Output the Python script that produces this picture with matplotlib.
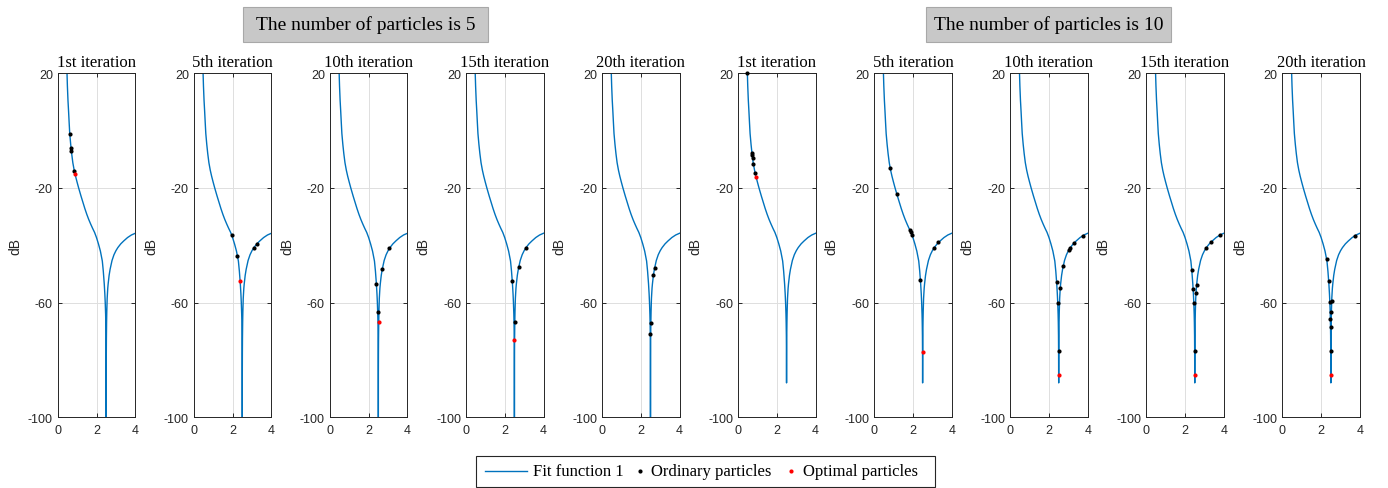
import matplotlib
matplotlib.use("Agg")
import matplotlib.pyplot as plt
from matplotlib.lines import Line2D
from matplotlib.patches import Rectangle

plt.rcParams['axes.unicode_minus'] = False
plt.rcParams['font.family'] = ['Liberation Sans', 'DejaVu Sans']

# ---------------- data ----------------
group_labels = ['The number of particles is 5', 'The number of particles is 10']
iteration_labels = ['1st iteration', '5th iteration', '10th iteration', '15th iteration', '20th iteration']

# Fit function 1 (dB)
curve_left_x = [0.47, 0.48, 0.50, 0.53, 0.56, 0.59, 0.62, 0.67, 0.72, 0.78, 0.85, 0.92, 1.00, 1.08,
                1.20, 1.30, 1.40, 1.50, 1.60, 1.70, 1.80, 1.90, 2.00, 2.10, 2.20, 2.30, 2.35, 2.40,
                2.43, 2.45, 2.47, 2.48, 2.49, 2.495, 2.498]
curve_left_db = [24.0, 20.0, 15.5, 10.5, 6.8, 2.8, -1.0, -4.8, -8.0, -11.2, -13.8, -15.9, -18.0, -20.0,
                 -22.8, -25.0, -27.2, -29.2, -31.0, -32.6, -34.1, -35.5, -37.3, -39.5, -42.0, -45.5, -49.0, -53.5,
                 -57.0, -60.0, -64.0, -67.0, -71.5, -77.0, -84.0]
notch_x = 2.5
notch_db_5 = -130.0    # below the axis (line leaves the bottom)
notch_db_10 = -88.0
curve_right_x = [2.502, 2.505, 2.51, 2.52, 2.53, 2.55, 2.58, 2.60, 2.65, 2.70, 2.80, 2.90, 3.00, 3.10,
                 3.25, 3.40, 3.60, 3.80, 4.00]
curve_right_db = [-84.0, -78.0, -72.5, -66.8, -63.2, -58.5, -55.0, -53.5, -50.5, -48.4, -45.3, -43.3, -41.9, -40.8,
                  -39.5, -38.5, -37.3, -36.4, -35.8]

# particles per panel (5 particles: panels 0-4, 10 particles: panels 5-9)
ordinary_x = [
    [0.62, 0.689, 0.704, 0.86],
    [1.95, 2.25, 3.10, 3.24],
    [2.40, 2.467, 2.71, 3.07],
    [2.39, 2.52, 2.73, 3.09],
    [2.519, 2.4885, 2.65, 2.715],
    [0.48, 0.715, 0.728, 0.745, 0.79, 0.89],
    [0.83, 1.18, 1.86, 1.90, 1.95, 2.385, 3.09, 3.31],
    [2.39, 2.58, 2.45, 2.495, 2.735, 3.04, 3.07, 3.29, 3.77],
    [2.345, 2.415, 2.45, 2.60, 2.565, 2.495, 3.10, 3.34, 3.81],
    [2.28, 2.39, 2.45, 2.545, 2.53, 2.476, 2.483, 2.506, 3.74],
]
ordinary_db = [
    [-1.0, -6.0, -7.0, -14.0],
    [-36.3, -43.7, -40.8, -39.6],
    [-53.5, -63.4, -48.1, -41.1],
    [-52.6, -66.8, -47.5, -40.9],
    [-67.2, -70.8, -50.5, -47.9],
    [20.0, -7.7, -8.5, -9.4, -11.6, -14.9],
    [-13.1, -22.2, -34.5, -35.3, -36.3, -52.2, -40.9, -39.0],
    [-52.8, -55.0, -60.2, -76.9, -47.3, -41.5, -41.1, -39.2, -36.6],
    [-48.6, -55.2, -60.1, -53.8, -56.7, -76.7, -40.9, -38.9, -36.4],
    [-44.8, -52.6, -59.8, -59.6, -63.2, -65.8, -68.4, -76.9, -36.7],
]
optimal_x = [[0.90], [2.39], [2.52], [2.491], [], [0.94], [2.495], [2.4986], [2.4986], [2.4986]]
optimal_db = [[-15.2], [-52.6], [-66.8], [-72.9], [], [-16.3], [-77.1], [-85.2], [-85.2], [-85.2]]

x_ticks = [0, 2, 4]
y_ticks = [-100, -60, -20, 20]

# ---------------- layout ----------------
W, H = 1388, 489
fig = plt.figure(figsize=(W / 100, H / 100), dpi=100)
fig.patch.set_facecolor('white')

def fx(px):
    return px / W

def fy(py):
    return 1 - py / H

AX_LEFT0, AX_STEP, AX_W = 57.7, 136.07, 77.6
AX_TOP, AX_BOT = 74.3, 418.3
LINE_C = '#0072BD'
AXC = '#262626'
SERIF = ['Liberation Serif', 'DejaVu Serif']

for i in range(10):
    left = AX_LEFT0 + AX_STEP * i
    ax = fig.add_axes([fx(left), fy(AX_BOT), AX_W / W, (AX_BOT - AX_TOP) / H])
    nb = notch_db_5 if i < 5 else notch_db_10
    cx = curve_left_x + [notch_x] + curve_right_x
    cy = curve_left_db + [nb] + curve_right_db
    ax.plot(cx, cy, color=LINE_C, lw=1.0, zorder=2)
    ax.plot(ordinary_x[i], ordinary_db[i], 'o', ms=3.0, color='black', mec='none',
            clip_on=False, zorder=3)
    if optimal_x[i]:
        ax.plot(optimal_x[i], optimal_db[i], 'o', ms=3.0, color='red', mec='none',
                clip_on=False, zorder=4)
    ax.set_xlim(0, 4)
    ax.set_ylim(-100, 20)
    ax.set_xticks(x_ticks)
    ax.set_yticks(y_ticks)
    ax.grid(True, color='#dedede', lw=0.7)
    ax.set_axisbelow(True)
    ax.tick_params(direction='in', top=True, right=True, length=3, width=0.7,
                   colors=AXC, labelsize=9)
    ax.tick_params(axis='x', pad=4.5)
    ax.tick_params(axis='y', pad=3.5)
    for s in ax.spines.values():
        s.set_linewidth(0.7)
        s.set_color(AXC)
    ax.set_ylabel('dB', fontsize=10, color=AXC, labelpad=4)
    ax.set_title(iteration_labels[i % 5], fontsize=12, family=SERIF, pad=5)

# group labels in gray boxes
for g, (bx0, bx1) in enumerate([(243.3, 488.3), (926.0, 1171.0)]):
    by0, by1 = 8.3, 42.7
    fig.add_artist(Rectangle((fx(bx0), fy(by1)), (bx1 - bx0) / W, (by1 - by0) / H,
                             transform=fig.transFigure, facecolor='#c8c8c8',
                             edgecolor='#a8a8a8', lw=0.8))
    fig.text(fx((bx0 + bx1) / 2), fy((by0 + by1) / 2), group_labels[g], ha='center',
             va='center', fontsize=14, family=SERIF, color='black')

# legend
lx0, lx1, ly0, ly1 = 476, 935, 457, 487.5
ly = 472
fig.add_artist(Rectangle((fx(lx0), fy(ly1)), (lx1 - lx0) / W, (ly1 - ly0) / H,
                         transform=fig.transFigure, facecolor='white', edgecolor=AXC, lw=0.8))
fig.add_artist(Line2D([fx(485), fx(527)], [fy(ly), fy(ly)], transform=fig.transFigure,
                      color=LINE_C, lw=1.0))
fig.text(fx(533), fy(ly), 'Fit function 1', ha='left', va='center', fontsize=12, family=SERIF)
fig.add_artist(Line2D([fx(640)], [fy(ly)], transform=fig.transFigure, marker='o', ms=3.0,
                      color='black', mec='none', ls='none'))
fig.text(fx(651), fy(ly), 'Ordinary particles', ha='left', va='center', fontsize=12, family=SERIF)
fig.add_artist(Line2D([fx(791)], [fy(ly)], transform=fig.transFigure, marker='o', ms=3.0,
                      color='red', mec='none', ls='none'))
fig.text(fx(803), fy(ly), 'Optimal particles', ha='left', va='center', fontsize=12, family=SERIF)

fig.savefig('out.png', dpi=100)
